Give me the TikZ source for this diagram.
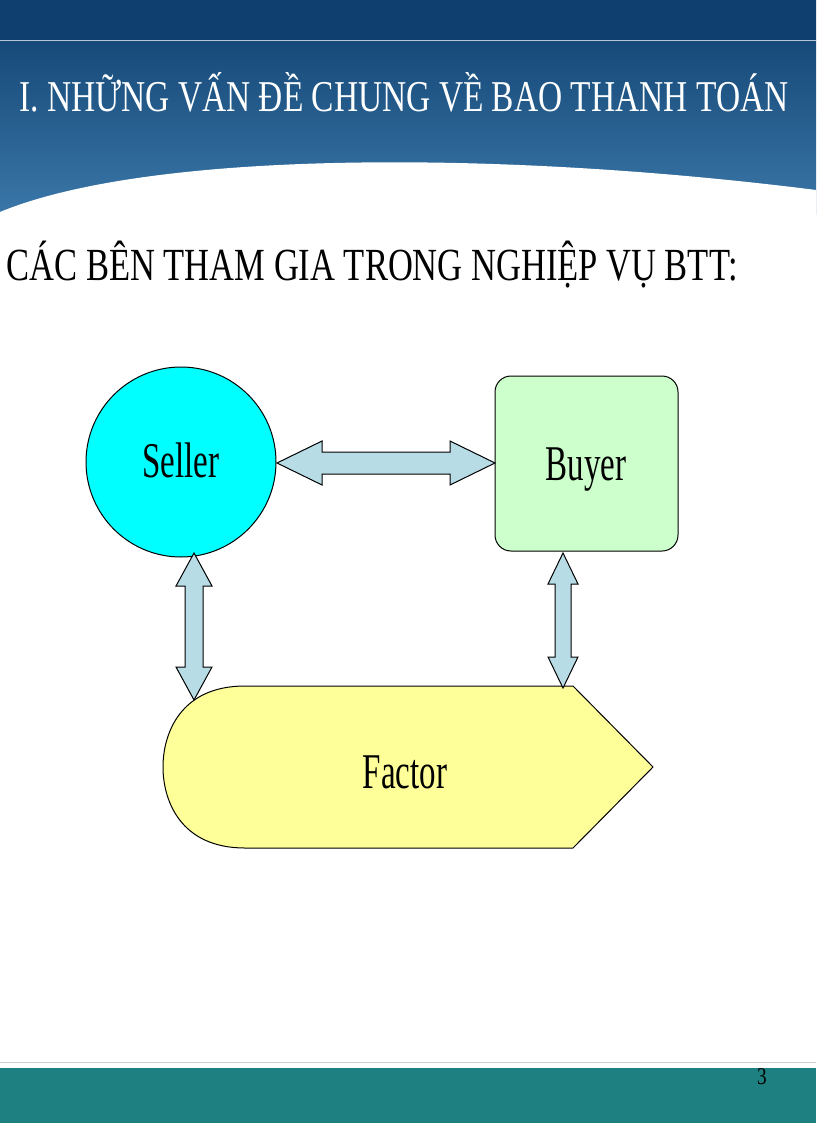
\documentclass[tikz,border=0pt]{standalone}
\usepackage{fontspec}
\setmainfont{Liberation Serif}
\usetikzlibrary{calc}
\definecolor{hdr}{HTML}{0E3F6E}
\definecolor{hdrl}{HTML}{3A77A8}
\definecolor{arr}{HTML}{B8DCE6}
\definecolor{tealc}{HTML}{1E8080}
\definecolor{cyanc}{HTML}{00FFFF}
\definecolor{yelc}{HTML}{FFFF99}
\definecolor{grnc}{HTML}{CCFFCC}
\tikzset{
  lbl/.style={font=\fontsize{50}{52}\selectfont, xscale=0.66},
  dbl/.style={fill=arr, draw=black, line width=1pt, line join=miter}
}
\begin{document}
\begin{tikzpicture}[x=1pt,y=-1pt]
\useasboundingbox (0,0) rectangle (816,1123);
\fill[white] (0,0) rectangle (816,1123);
% header
\shade[top color=hdr, bottom color=hdrl] (0,0) rectangle (816,215);
\fill[hdr] (0,0) rectangle (816,40);
\draw[white!70!hdr, line width=0.6pt] (0,40) -- (816,40);
\fill[white] (0,212) .. controls (150,150) and (500,150) .. (816,190) -- (816,215) -- (0,215) -- cycle;
\node[text=white, font=\fontsize{44}{46}\selectfont, xscale=0.76, anchor=center] (title) at (404,92) {I. NHỮNG VẤN ĐỀ CHUNG VỀ BAO THANH TOÁN};
% subtitle
\node[font=\fontsize{46}{48}\selectfont, xscale=0.75, anchor=west] (sub) at (4,265) {CÁC BÊN THAM GIA TRONG NGHIỆP VỤ BTT:};
% footer
\fill[tealc] (0,1068) rectangle (816,1123);
\draw[gray!40] (0,1062) -- (816,1062);
\node[font=\fontsize{24}{26}\selectfont, xscale=0.8] (pg) at (762,1077) {3};
% nodes
\node[circle, fill=cyanc, draw=black, line width=1pt, minimum size=190pt] (seller) at (181,462) {};
\node[lbl] at (181,460) {Seller};
\node[rounded corners=16pt, fill=grnc, draw=black, line width=1pt, minimum width=183pt, minimum height=175pt] (buyer) at (586.5,463.5) {};
\node[lbl] at (586,470) {Buyer};
\draw[fill=yelc, draw=black, line width=1pt] (245,686) -- (573,686) -- (653,767) -- (573,848) -- (245,848) .. controls (180,848) and (163,800) .. (163,767) .. controls (163,734) and (180,686) .. (245,686) -- cycle;
\node[lbl] (factor) at (405,772) {Factor};
% arrows
\draw[dbl] (277,463) -- (322,441) -- (322,452) -- (450,452) -- (450,441) -- (495,463) -- (450,485) -- (450,474) -- (322,474) -- (322,485) -- cycle;
\draw[dbl] (194,553) -- (212,586) -- (203,586) -- (203,667) -- (212,667) -- (194,700) -- (176,667) -- (185,667) -- (185,586) -- (176,586) -- cycle;
\draw[dbl] (563,553) -- (578,584) -- (571,584) -- (571,657) -- (578,657) -- (563,688) -- (548,657) -- (555,657) -- (555,584) -- (548,584) -- cycle;
\end{tikzpicture}
\end{document}
